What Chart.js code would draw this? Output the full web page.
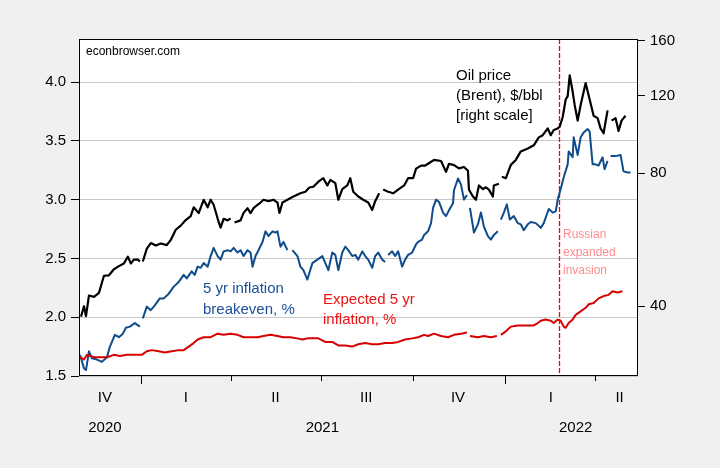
<!DOCTYPE html>
<html>
<head>
<meta charset="utf-8">
<script src="https://cdn.jsdelivr.net/npm/chart.js@4.4.0/dist/chart.umd.min.js"></script>
<style>
  html, body { margin: 0; padding: 0; background: #f0f0f0; }
</style>
</head>
<body>
<canvas id="oilChart" width="720" height="468"></canvas>
<script>
// Brent oil price, $/bbl (right scale, log)
const oilDates = [
  '2020-11-02','2020-11-05','2020-11-07','2020-11-10','2020-11-15','2020-11-20','2020-11-25','2020-11-30',
  '2020-12-05','2020-12-10','2020-12-15','2020-12-19','2020-12-22','2020-12-25','2020-12-29','2020-12-31',
  '2021-01-01','2021-01-03','2021-01-07','2021-01-11','2021-01-16','2021-01-21','2021-01-27','2021-01-31',
  '2021-02-05','2021-02-10','2021-02-15','2021-02-20','2021-02-23','2021-02-28','2021-03-05','2021-03-09',
  '2021-03-12','2021-03-15','2021-03-19','2021-03-22','2021-03-25','2021-03-29','2021-04-01','2021-04-03',
  '2021-04-05','2021-04-11','2021-04-14','2021-04-18','2021-04-21','2021-04-24','2021-04-28','2021-05-01',
  '2021-05-04','2021-05-09','2021-05-14','2021-05-18','2021-05-20','2021-05-23','2021-05-28','2021-06-03',
  '2021-06-10','2021-06-15','2021-06-19','2021-06-23','2021-06-28','2021-07-03','2021-07-07','2021-07-10',
  '2021-07-15','2021-07-18','2021-07-22','2021-07-27','2021-07-30','2021-08-02','2021-08-07','2021-08-12',
  '2021-08-17','2021-08-21','2021-08-24','2021-08-28','2021-08-30','2021-09-01','2021-09-06','2021-09-11',
  '2021-09-16','2021-09-22','2021-09-26','2021-10-01','2021-10-04','2021-10-09','2021-10-13','2021-10-16',
  '2021-10-22','2021-10-29','2021-11-03','2021-11-06','2021-11-11','2021-11-16','2021-11-21','2021-11-25',
  '2021-11-26','2021-11-30','2021-12-03','2021-12-06','2021-12-10','2021-12-13','2021-12-16','2021-12-20',
  '2021-12-21','2021-12-26','2021-12-28','2021-12-29','2022-01-02','2022-01-07','2022-01-12','2022-01-17',
  '2022-01-24','2022-01-30','2022-02-04','2022-02-08','2022-02-13','2022-02-16','2022-02-19','2022-02-23',
  '2022-02-25','2022-02-28','2022-03-03','2022-03-05','2022-03-07','2022-03-10','2022-03-12','2022-03-15',
  '2022-03-18','2022-03-23','2022-03-26','2022-03-31','2022-04-04','2022-04-07','2022-04-10','2022-04-14',
  '2022-04-16','2022-04-18','2022-04-22','2022-04-25','2022-04-28','2022-05-02'
];
const oilPrice = [
  37.9, 40.0, 38.0, 42.3, 42.0, 42.9, 46.9, 47.0,
  48.5, 49.3, 50.0, 51.8, 50.0, 51.0, 51.0, 50.5,
  null, 50.5, 54.0, 55.6, 54.9, 55.5, 55.0, 56.5,
  59.6, 60.9, 62.7, 64.0, 67.0, 65.0, 69.7, 67.0,
  69.7, 67.9, 63.2, 60.3, 63.1, 62.6, 63.2, null,
  61.9, 62.6, 65.1, 66.7, 65.0, 66.7, 67.9, 68.7,
  69.7, 69.2, 69.7, 68.7, 65.1, 68.7, 69.7, 70.9,
  72.1, 72.7, 74.3, 74.6, 76.6, 78.0, 75.1, 77.3,
  76.0, 69.7, 73.7, 75.1, 78.0, 72.7, 70.9, 69.7,
  68.7, 66.1, 69.2, 72.1, null, 73.5, 72.7, 72.1,
  73.5, 75.1, 78.0, 78.0, 82.0, 83.3, 83.3, 84.1,
  85.8, 85.3, 80.6, 84.1, 83.5, 82.1, 82.7, 81.1,
  73.5, 70.9, 69.7, 75.1, 73.7, 74.4, 73.5, 70.9,
  75.1, 75.8, null, 78.6, 78.0, 83.6, 85.8, 89.7,
  91.1, 92.6, 96.5, 97.6, 101.1, 97.6, 100.3, 101.1,
  102.0, 107.3, 117.6, 119.7, 133.4, 122.4, 114.3, 105.3,
  114.3, 128.1, 120.2, 108.0, 106.7, 101.1, 98.6, 111.1,
  null, 105.3, 106.7, 99.8, 105.3, 108.0
];

// 5 yr inflation breakeven, %
const beDates = [
  '2020-11-01','2020-11-05','2020-11-07','2020-11-10','2020-11-13','2020-11-18','2020-11-23','2020-11-28',
  '2020-12-01','2020-12-06','2020-12-10','2020-12-14','2020-12-17','2020-12-21','2020-12-26','2020-12-31',
  '2021-01-01','2021-01-03','2021-01-07','2021-01-11','2021-01-15','2021-01-20','2021-01-24','2021-01-29',
  '2021-02-03','2021-02-08','2021-02-13','2021-02-16','2021-02-21','2021-02-24','2021-02-27','2021-03-02',
  '2021-03-05','2021-03-09','2021-03-12','2021-03-15','2021-03-19','2021-03-22','2021-03-25','2021-03-29',
  '2021-04-01','2021-04-04','2021-04-08','2021-04-11','2021-04-14','2021-04-18','2021-04-21','2021-04-23',
  '2021-04-26','2021-04-29','2021-05-03','2021-05-06','2021-05-09','2021-05-13','2021-05-16','2021-05-18',
  '2021-05-21','2021-05-24','2021-05-28','2021-05-31','2021-06-02','2021-06-07','2021-06-10','2021-06-13',
  '2021-06-17','2021-06-22','2021-06-27','2021-07-02','2021-07-05','2021-07-08','2021-07-12','2021-07-15',
  '2021-07-18','2021-07-22','2021-07-25','2021-07-28','2021-08-01','2021-08-04','2021-08-07','2021-08-11',
  '2021-08-14','2021-08-17','2021-08-21','2021-08-24','2021-08-27','2021-08-31','2021-09-03','2021-09-05',
  '2021-09-06','2021-09-10','2021-09-13','2021-09-16','2021-09-20','2021-09-23','2021-09-26','2021-09-30',
  '2021-10-04','2021-10-06','2021-10-10','2021-10-12','2021-10-16','2021-10-19','2021-10-21','2021-10-24',
  '2021-10-27','2021-10-31','2021-11-03','2021-11-06','2021-11-10','2021-11-11','2021-11-15','2021-11-18',
  '2021-11-21','2021-11-24','2021-11-26','2021-11-27','2021-12-01','2021-12-05','2021-12-08','2021-12-11',
  '2021-12-15','2021-12-18','2021-12-21','2021-12-25','2021-12-27','2021-12-28','2021-12-31','2022-01-03',
  '2022-01-06','2022-01-10','2022-01-14','2022-01-17','2022-01-20','2022-01-24','2022-01-27','2022-02-01',
  '2022-02-06','2022-02-09','2022-02-14','2022-02-18','2022-02-21','2022-02-23','2022-02-26','2022-03-01',
  '2022-03-05','2022-03-06','2022-03-10','2022-03-11','2022-03-15','2022-03-18','2022-03-21','2022-03-25',
  '2022-03-27','2022-03-30','2022-04-02','2022-04-05','2022-04-09','2022-04-11','2022-04-14','2022-04-16',
  '2022-04-17','2022-04-22','2022-04-27','2022-04-30','2022-05-04','2022-05-07'
];
const beValues = [
  1.68, 1.565, 1.55, 1.71, 1.65, 1.64, 1.62, 1.66,
  1.75, 1.85, 1.83, 1.86, 1.91, 1.92, 1.95, 1.92,
  null, 1.99, 2.09, 2.06, 2.10, 2.16, 2.16, 2.20,
  2.26, 2.30, 2.36, 2.33, 2.39, 2.36, 2.43, 2.42,
  2.46, 2.43, 2.52, 2.59, 2.52, 2.49, 2.56, 2.57,
  2.56, 2.59, 2.55, 2.57, 2.52, 2.57, 2.55, 2.43,
  2.52, 2.57, 2.64, 2.73, 2.69, 2.73, 2.72, 2.73,
  2.60, 2.64, 2.57, null, 2.57, 2.52, 2.43, 2.40,
  2.32, 2.46, 2.49, 2.52, 2.46, 2.40, 2.55, 2.53,
  2.40, 2.55, 2.60, 2.57, 2.52, 2.53, 2.49, 2.56,
  2.52, 2.49, 2.42, 2.52, 2.55, 2.49, 2.47, null,
  2.53, 2.56, 2.52, 2.56, 2.43, 2.49, 2.53, 2.55,
  2.62, 2.64, 2.66, 2.70, 2.73, 2.80, 2.93, 3.00,
  2.98, 2.89, 2.86, 2.91, 2.97, 3.08, 3.18, 3.13,
  3.00, 3.04, null, 2.93, 2.72, 2.79, 2.89, 2.77,
  2.69, 2.66, 2.70, 2.73, null, 2.83, 2.89, 2.96,
  2.83, 2.86, 2.80, 2.79, 2.74, 2.79, 2.81, 2.80,
  2.76, 2.80, 2.92, 2.89, 2.90, 3.00, 3.09, 3.19,
  3.30, 3.41, 3.36, 3.53, 3.38, 3.53, 3.57, 3.60,
  3.58, 3.30, 3.30, 3.29, 3.36, 3.26, 3.33, null,
  3.37, 3.37, 3.38, 3.24, 3.23, 3.23
];

// Expected 5 yr inflation, %
const expDates = [
  '2020-11-01','2020-11-05','2020-11-08','2020-11-15','2020-11-21','2020-11-28','2020-12-05','2020-12-11',
  '2020-12-18','2020-12-26','2021-01-02','2021-01-07','2021-01-12','2021-01-19','2021-01-25','2021-02-01',
  '2021-02-08','2021-02-13','2021-02-18','2021-02-23','2021-02-27','2021-03-05','2021-03-12','2021-03-19',
  '2021-03-25','2021-04-01','2021-04-08','2021-04-14','2021-04-21','2021-04-28','2021-05-04','2021-05-11',
  '2021-05-18','2021-05-24','2021-05-31','2021-06-07','2021-06-12','2021-06-17','2021-06-22','2021-06-28',
  '2021-07-05','2021-07-12','2021-07-18','2021-07-25','2021-08-01','2021-08-07','2021-08-14','2021-08-21',
  '2021-08-27','2021-09-03','2021-09-10','2021-09-16','2021-09-23','2021-09-30','2021-10-06','2021-10-12',
  '2021-10-16','2021-10-22','2021-10-29','2021-11-05','2021-11-11','2021-11-18','2021-11-24','2021-11-26',
  '2021-11-27','2021-12-05','2021-12-11','2021-12-18','2021-12-24','2021-12-27','2021-12-28','2022-01-02',
  '2022-01-07','2022-01-14','2022-01-19','2022-01-24','2022-01-30','2022-02-03','2022-02-06','2022-02-11',
  '2022-02-16','2022-02-19','2022-02-23','2022-02-26','2022-03-01','2022-03-03','2022-03-06','2022-03-10',
  '2022-03-13','2022-03-18','2022-03-23','2022-03-26','2022-03-31','2022-04-05','2022-04-10','2022-04-15',
  '2022-04-19','2022-04-24','2022-04-29'
];
const expValues = [
  1.66, 1.64, 1.68, 1.66, 1.66, 1.66, 1.68, 1.67,
  1.68, 1.68, 1.68, 1.71, 1.72, 1.71, 1.70, 1.71,
  1.72, 1.72, 1.75, 1.78, 1.81, 1.83, 1.83, 1.86,
  1.85, 1.86, 1.85, 1.83, 1.83, 1.83, 1.84, 1.85,
  1.84, 1.83, 1.83, 1.82, 1.81, 1.82, 1.82, 1.82,
  1.79, 1.79, 1.76, 1.76, 1.75, 1.77, 1.78, 1.77,
  1.77, 1.78, 1.78, 1.79, 1.81, 1.82, 1.83, 1.85,
  1.84, 1.86, 1.84, 1.83, 1.85, 1.86, 1.87, null,
  1.84, 1.83, 1.84, 1.83, 1.84, null, 1.85, 1.88,
  1.92, 1.93, 1.93, 1.93, 1.93, 1.95, 1.97, 1.98,
  1.97, 1.95, 1.98, 1.97, 1.92, 1.91, 1.95, 1.98,
  2.02, 2.05, 2.08, 2.11, 2.12, 2.16, 2.18, 2.19,
  2.22, 2.21, 2.22
];

const leftTicks = [1.5, 2.0, 2.5, 3.0, 3.5, 4.0];
const rightTicks = [40, 80, 120, 160];
const quarterEdges = ['2021-01-01', '2021-04-01', '2021-07-01', '2021-10-01', '2022-01-01', '2022-04-01'];
const quarterLabels = ['IV', 'I', 'II', 'III', 'IV', 'I', 'II'];
const quarterLabelDates = ['2020-11-26', '2021-02-15', '2021-05-16', '2021-08-15', '2021-11-15', '2022-02-16', '2022-04-26'];
const yearLabels = ['2020', '2021', '2022'];
const yearLabelDates = ['2020-11-26', '2021-07-02', '2022-03-13'];
const invasionDate = '2022-02-24';

function dayNum(s) {
    const [y, m, d] = s.split('-').map(Number);
    return (Date.UTC(y, m - 1, d) - Date.UTC(2021, 0, 1)) / 864e5;
}
function toPoints(dates, values) {
    return dates.map((s, i) => ({ x: dayNum(s), y: values[i] }));
}

const FONT = "'Liberation Sans', Arial, sans-serif";

const framePlugin = {
    id: 'frame',
    beforeDraw(chart) {
        const { ctx, chartArea: a } = chart;
        ctx.save();
        ctx.fillStyle = '#f0f0f0';
        ctx.fillRect(0, 0, chart.width, chart.height);
        ctx.fillStyle = '#ffffff';
        ctx.fillRect(a.left, a.top, a.right - a.left, a.bottom - a.top);
        ctx.restore();
    },
    beforeDatasetsDraw(chart) {
        // dashed red line on the invasion date
        const { ctx, chartArea: a } = chart;
        const x = Math.round(chart.scales.x.getPixelForValue(dayNum(invasionDate))) + 0.5;
        ctx.save();
        ctx.strokeStyle = 'rgb(255, 0, 0)';
        ctx.lineWidth = 1.3;
        ctx.setLineDash([5, 2]);
        ctx.beginPath();
        ctx.moveTo(x, a.top);
        ctx.lineTo(x, a.bottom);
        ctx.stroke();
        ctx.restore();
    },
    afterDraw(chart) {
        const { ctx, chartArea: a } = chart;
        const xs = chart.scales.x;
        ctx.save();
        // box round the plot
        ctx.strokeStyle = '#000';
        ctx.lineWidth = 1;
        ctx.setLineDash([]);
        ctx.strokeRect(a.left + 0.5, a.top + 0.5, a.right - a.left - 1, a.bottom - a.top - 1);

        // quarter tick marks, longer at year starts
        quarterEdges.forEach(d => {
            const x = Math.round(xs.getPixelForValue(dayNum(d))) + 0.5;
            const len = d.endsWith('01-01') ? 8 : 5;
            ctx.beginPath();
            ctx.moveTo(x, a.bottom);
            ctx.lineTo(x, a.bottom + len);
            ctx.stroke();
        });

        ctx.fillStyle = '#000';
        ctx.font = '15px ' + FONT;
        ctx.textAlign = 'center';
        ctx.textBaseline = 'middle';
        quarterLabels.forEach((q, i) => {
            ctx.fillText(q, xs.getPixelForValue(dayNum(quarterLabelDates[i])), 398);
        });
        yearLabels.forEach((y, i) => {
            ctx.fillText(y, xs.getPixelForValue(dayNum(yearLabelDates[i])), 428);
        });

        // annotations
        ctx.textAlign = 'left';
        ctx.font = '12px ' + FONT;
        ctx.fillText('econbrowser.com', 86, 52);

        ctx.font = '15px ' + FONT;
        ctx.fillStyle = '#000';
        ctx.fillText('Oil price', 456, 76);
        ctx.fillText('(Brent), $/bbl', 456, 96);
        ctx.fillText('[right scale]', 456, 116);

        ctx.fillStyle = '#1b4f98';
        ctx.fillText('5 yr inflation', 203, 289);
        ctx.fillText('breakeven, %', 203, 310);

        ctx.fillStyle = '#ee1111';
        ctx.fillText('Expected 5 yr', 323, 300);
        ctx.fillText('inflation, %', 323, 320);

        ctx.fillStyle = '#ff8c8c';
        ctx.font = '12px ' + FONT;
        ctx.fillText('Russian', 563, 235);
        ctx.fillText('expanded', 563, 253);
        ctx.fillText('invasion', 563, 271);
        ctx.restore();
    }
};

new Chart(document.getElementById('oilChart'), {
    type: 'line',
    data: {
        datasets: [
            {
                label: 'Expected 5 yr inflation, %',
                data: toPoints(expDates, expValues),
                yAxisID: 'y',
                borderColor: '#d60000',
                borderWidth: 2,
                order: 1
            },
            {
                label: 'Oil price (Brent), $/bbl',
                data: toPoints(oilDates, oilPrice),
                yAxisID: 'y2',
                borderColor: '#000000',
                borderWidth: 2.2,
                order: 2
            },
            {
                label: '5 yr inflation breakeven, %',
                data: toPoints(beDates, beValues),
                yAxisID: 'y',
                borderColor: '#0f4c8c',
                borderWidth: 2,
                order: 3
            }
        ]
    },
    options: {
        responsive: false,
        animation: false,
        devicePixelRatio: 1,
        spanGaps: false,
        elements: {
            point: { radius: 0 },
            line: { tension: 0, borderJoinStyle: 'round' }
        },
        layout: { padding: { top: 39, bottom: 92, left: 0, right: 0 } },
        plugins: {
            legend: { display: false },
            tooltip: { enabled: false }
        },
        scales: {
            x: {
                type: 'linear',
                display: false,
                min: dayNum('2020-10-31'),
                max: dayNum('2022-05-14') + 0.5
            },
            y: {
                position: 'left',
                min: 1.5,
                max: 4.366,
                afterBuildTicks: s => { s.ticks = leftTicks.map(v => ({ value: v })); },
                afterFit: s => { s.width = 79; },
                border: { display: false },
                grid: { color: '#c8c8c8', tickColor: '#000', tickLength: 8, lineWidth: 1 },
                ticks: {
                    padding: 5,
                    color: '#000',
                    font: { family: FONT, size: 15 },
                    callback: v => Number(v).toFixed(1)
                }
            },
            y2: {
                type: 'logarithmic',
                position: 'right',
                min: 27.8,
                max: 161.2,
                afterBuildTicks: s => { s.ticks = rightTicks.map(v => ({ value: v })); },
                afterFit: s => { s.width = 82; },
                border: { display: false },
                grid: { drawOnChartArea: false, tickColor: '#000', tickLength: 7 },
                ticks: {
                    padding: 5,
                    color: '#000',
                    font: { family: FONT, size: 15 },
                    callback: v => String(v)
                }
            }
        }
    },
    plugins: [framePlugin]
});
</script>
</body>
</html>
